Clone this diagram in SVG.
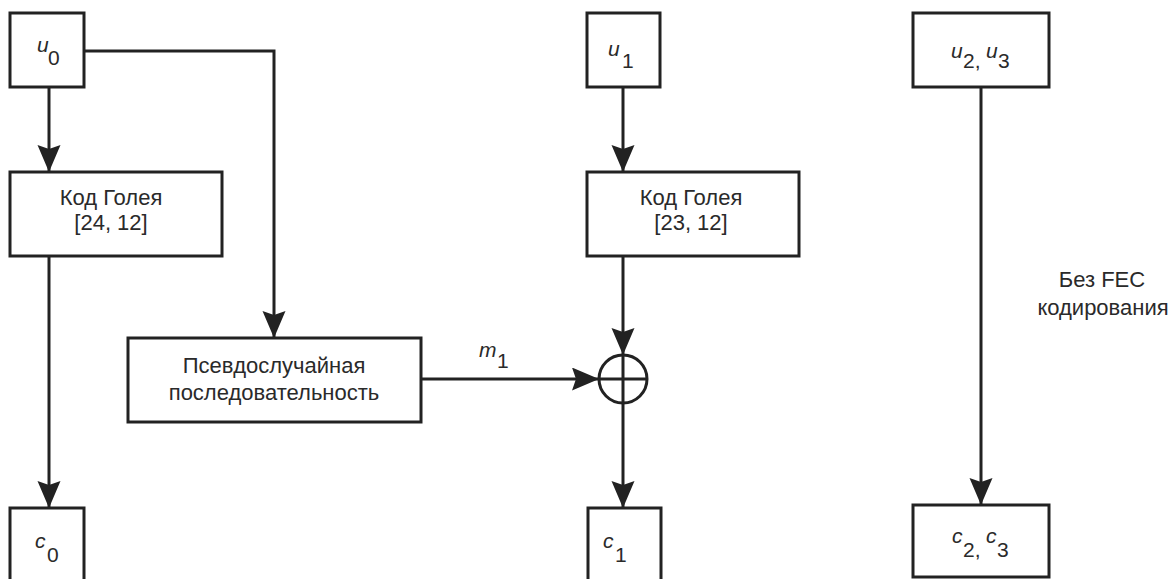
<svg xmlns="http://www.w3.org/2000/svg" width="1173" height="579" viewBox="0 0 1173 579">
<style>
  .box{fill:#fff;stroke:#222;stroke-width:3}
  .ln{fill:none;stroke:#222;stroke-width:3}
  text{font-family:"Liberation Sans",Arial,sans-serif;font-size:22px;fill:#2a2a2a}
  .mid{text-anchor:middle}
  .it{font-style:italic;font-size:21px}
  .sub{font-style:normal;font-size:21px}
</style>
<defs>
  <marker id="arr" markerUnits="userSpaceOnUse" markerWidth="28" markerHeight="24" refX="27" refY="11.5" orient="auto">
    <path d="M0,0 L27,11.5 L0,23 L4,11.5 Z" fill="#222"/>
  </marker>
</defs>
<rect width="1173" height="579" fill="#fff"/>

<g id="connectors">
  <path class="ln" d="M49,87 V172" marker-end="url(#arr)"/>
  <path class="ln" d="M84,51 H274 V338" marker-end="url(#arr)"/>
  <path class="ln" d="M49,256 V508" marker-end="url(#arr)"/>
  <path class="ln" d="M421,379 H599" marker-end="url(#arr)"/>
  <path class="ln" d="M623,87 V172" marker-end="url(#arr)"/>
  <path class="ln" d="M623,256 V355" marker-end="url(#arr)"/>
  <path class="ln" d="M623,403 V508" marker-end="url(#arr)"/>
  <path class="ln" d="M981,87 V505" marker-end="url(#arr)"/>
</g>

<g id="u0">
  <rect class="box" x="10" y="13" width="74" height="74"/>
  <text class="it"><tspan x="37" y="52">u</tspan><tspan class="sub" x="48" y="65">0</tspan></text>
</g>
<g id="golay24">
  <rect class="box" x="10" y="172" width="212" height="84"/>
  <text class="mid" x="111" y="205">Код Голея</text>
  <text class="mid" x="111" y="230">[24, 12]</text>
</g>
<g id="c0">
  <rect class="box" x="10" y="508" width="74" height="120"/>
  <text class="it"><tspan x="35" y="548">c</tspan><tspan class="sub" x="47" y="562">0</tspan></text>
</g>
<g id="prs">
  <rect class="box" x="128" y="338" width="293" height="84"/>
  <text class="mid" x="274" y="373">Псевдослучайная</text>
  <text class="mid" x="274" y="400">последовательность</text>
</g>
<g id="m1label">
  <text class="it"><tspan x="479" y="357">m</tspan><tspan class="sub" x="497" y="368">1</tspan></text>
</g>
<g id="u1">
  <rect class="box" x="587" y="13" width="73" height="74"/>
  <text class="it"><tspan x="608" y="56">u</tspan><tspan class="sub" x="622" y="68">1</tspan></text>
</g>
<g id="golay23">
  <rect class="box" x="587" y="172" width="212" height="84"/>
  <text class="mid" x="691" y="205">Код Голея</text>
  <text class="mid" x="691" y="230">[23, 12]</text>
</g>
<g id="xor">
  <circle class="ln" cx="623" cy="379" r="24"/>
  <path class="ln" d="M599,379 H647 M623,355 V403"/>
</g>
<g id="c1">
  <rect class="box" x="588" y="508" width="73" height="120"/>
  <text class="it"><tspan x="603" y="548">c</tspan><tspan class="sub" x="615" y="562">1</tspan></text>
</g>
<g id="u23">
  <rect class="box" x="913" y="13" width="136" height="74"/>
  <text class="it"><tspan x="951" y="58">u</tspan><tspan class="sub" x="963" y="68">2,</tspan><tspan x="986" y="58">u</tspan><tspan class="sub" x="998" y="68">3</tspan></text>
</g>
<g id="nofec">
  <text class="mid" x="1102" y="287">Без FEC</text>
  <text class="mid" x="1103" y="315">кодирования</text>
</g>
<g id="c23">
  <rect class="box" x="913" y="505" width="136" height="72"/>
  <text class="it"><tspan x="952" y="543">c</tspan><tspan class="sub" x="963" y="557">2,</tspan><tspan x="986" y="543">c</tspan><tspan class="sub" x="997" y="557">3</tspan></text>
</g>
</svg>
